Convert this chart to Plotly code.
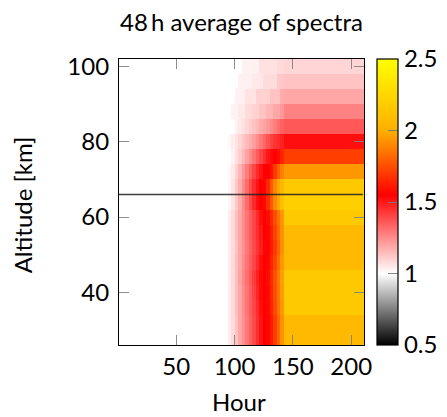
import plotly.graph_objects as go

# Hour bin edges: quiet period, 3-hour onset bins, then the settled period
hour_edges = [1, 94, 97, 100, 103, 106, 109, 112, 115, 118, 121, 124,
              127, 130, 133, 136, 139, 142, 211]

# Altitude bin edges in km (4 km layers centred on 28 ... 100 km)
altitude_edges = [26, 30, 34, 38, 42, 46, 50, 54, 58, 62, 66, 70, 74, 78,
                  82, 86, 90, 94, 98, 102]
altitudes = [28, 32, 36, 40, 44, 48, 52, 56, 60, 64, 68, 72, 76, 80, 84,
             88, 92, 96, 100]

# Ratio before the onset (all layers)
quiet_level = 1.0

# Ratio in each 3-hour bin from 94 h to 142 h, per altitude layer
onset = {
    28:  [1.04, 1.08, 1.13, 1.19, 1.24, 1.29, 1.34, 1.39, 1.45, 1.51, 1.55, 1.56, 1.62, 1.71, 1.81, 1.92],
    32:  [1.04, 1.08, 1.13, 1.19, 1.24, 1.29, 1.34, 1.39, 1.45, 1.51, 1.55, 1.56, 1.62, 1.71, 1.81, 1.92],
    36:  [1.04, 1.08, 1.14, 1.19, 1.25, 1.30, 1.35, 1.40, 1.46, 1.52, 1.55, 1.57, 1.64, 1.74, 1.84, 1.94],
    40:  [1.04, 1.08, 1.14, 1.19, 1.25, 1.30, 1.35, 1.41, 1.47, 1.53, 1.55, 1.57, 1.65, 1.75, 1.85, 1.95],
    44:  [1.04, 1.08, 1.14, 1.20, 1.26, 1.31, 1.36, 1.42, 1.48, 1.53, 1.55, 1.58, 1.66, 1.76, 1.86, 1.96],
    48:  [1.04, 1.08, 1.14, 1.19, 1.25, 1.30, 1.35, 1.40, 1.46, 1.52, 1.55, 1.57, 1.64, 1.73, 1.83, 1.94],
    52:  [1.04, 1.08, 1.13, 1.19, 1.24, 1.29, 1.34, 1.39, 1.44, 1.49, 1.54, 1.56, 1.62, 1.70, 1.80, 1.92],
    56:  [1.04, 1.08, 1.14, 1.19, 1.25, 1.30, 1.35, 1.40, 1.45, 1.50, 1.55, 1.56, 1.63, 1.72, 1.82, 1.92],
    60:  [1.04, 1.08, 1.14, 1.19, 1.25, 1.30, 1.35, 1.40, 1.46, 1.52, 1.55, 1.58, 1.66, 1.75, 1.84, 1.94],
    64:  [1.02, 1.06, 1.12, 1.18, 1.25, 1.32, 1.39, 1.46, 1.52, 1.55, 1.57, 1.66, 1.78, 1.90, 1.98, 2.10],
    68:  [1.02, 1.06, 1.12, 1.18, 1.25, 1.32, 1.39, 1.45, 1.51, 1.55, 1.56, 1.65, 1.78, 1.90, 1.98, 2.05],
    72:  [1.02, 1.05, 1.10, 1.16, 1.22, 1.28, 1.34, 1.40, 1.46, 1.51, 1.55, 1.55, 1.60, 1.70, 1.80, 1.88],
    76:  [1.00, 1.03, 1.07, 1.11, 1.15, 1.20, 1.25, 1.30, 1.35, 1.40, 1.45, 1.50, 1.53, 1.55, 1.58, 1.64],
    80:  [1.02, 1.04, 1.06, 1.09, 1.12, 1.15, 1.18, 1.21, 1.25, 1.29, 1.33, 1.37, 1.41, 1.44, 1.46, 1.48],
    84:  [1.00, 1.00, 1.03, 1.05, 1.07, 1.09, 1.11, 1.13, 1.15, 1.18, 1.20, 1.22, 1.25, 1.28, 1.31, 1.34],
    88:  [1.00, 1.03, 1.03, 1.05, 1.05, 1.08, 1.08, 1.10, 1.10, 1.13, 1.13, 1.16, 1.16, 1.19, 1.19, 1.22],
    92:  [1.00, 1.00, 1.03, 1.03, 1.03, 1.06, 1.06, 1.06, 1.10, 1.10, 1.10, 1.10, 1.13, 1.13, 1.13, 1.18],
    96:  [1.00, 1.00, 1.00, 1.03, 1.03, 1.03, 1.03, 1.05, 1.05, 1.05, 1.075, 1.075, 1.075, 1.075, 1.12, 1.12],
    100: [1.00, 1.00, 1.00, 1.00, 1.03, 1.03, 1.03, 1.03, 1.03, 1.065, 1.065, 1.065, 1.065, 1.065, 1.08, 1.08],
}

# Settled ratio after 142 h, per altitude layer
plateau = [2.06, 2.06, 2.16, 2.16, 2.16, 2.06, 2.06, 2.06, 2.16, 2.20,
           2.16, 1.94, 1.71, 1.52, 1.36, 1.27, 1.19, 1.13, 1.09]

# Reference altitude marked across the panel
marker_altitude = 66

z = [[quiet_level] + onset[a] + [p] for a, p in zip(altitudes, plateau)]

# black -> white -> red -> orange -> yellow over 0.5 ... 2.5
cmin, cmax = 0.5, 2.5
colorscale = [
    [0.0, "rgb(0,0,0)"],
    [0.25, "rgb(255,255,255)"],
    [0.525, "rgb(255,0,0)"],
    [0.75, "rgb(255,175,0)"],
    [1.0, "rgb(255,255,0)"],
]

FONT = "Lato"
FS = 24
W, H = 447, 417
L, R, T, B = 119, 83, 59, 72
plot_w = W - L - R
plot_h = H - T - B

fig = go.Figure()
fig.add_trace(go.Heatmap(
    x=hour_edges,
    y=altitude_edges,
    z=z,
    zmin=cmin,
    zmax=cmax,
    zsmooth=False,
    colorscale=colorscale,
    hoverinfo="skip",
    colorbar=dict(
        x=(377 - L) / plot_w,
        xanchor="left",
        xpad=0,
        y=0.5,
        yanchor="middle",
        len=1.0,
        lenmode="fraction",
        ypad=0,
        thickness=21,
        outlinecolor="black",
        outlinewidth=1.2,
        tickvals=[0.5, 1, 1.5, 2, 2.5],
        ticktext=["0.5", "1", "1.5", "2", "2.5"],
        ticks="inside",
        ticklen=10,
        tickcolor="rgba(120,120,120,0.9)",
        tickfont=dict(family=FONT, size=FS, color="black"),
    ),
))

fig.add_shape(
    type="line", xref="x", yref="y",
    x0=hour_edges[0], x1=hour_edges[-1] - 1,
    y0=marker_altitude, y1=marker_altitude,
    line=dict(color="rgba(30,30,30,0.85)", width=1.6),
)

axis_common = dict(
    showline=True,
    linecolor="black",
    linewidth=1.2,
    mirror="ticks",
    ticks="inside",
    ticklen=10,
    tickwidth=1.2,
    tickcolor="rgba(130,130,130,0.9)",
    showgrid=False,
    zeroline=False,
    tickfont=dict(family=FONT, size=FS, color="black"),
)

fig.update_xaxes(range=[hour_edges[0], hour_edges[-1]],
                 tickvals=[50, 100, 150, 200], **axis_common)
fig.update_yaxes(range=[altitude_edges[0], altitude_edges[-1]],
                 tickvals=[40, 60, 80, 100], ticklabelstandoff=4,
                 **axis_common)

fig.add_annotation(
    text="Altitude [km]", textangle=-90,
    xref="paper", yref="paper",
    x=(22.5 - L) / plot_w, y=0.49,
    xanchor="center", yanchor="middle", showarrow=False,
    font=dict(family=FONT, size=FS, color="black"),
)
fig.add_annotation(
    text="Hour",
    xref="paper", yref="paper",
    x=(239 - L) / plot_w, y=-(H - (H - B) + 1) / plot_h,
    xanchor="center", yanchor="bottom", showarrow=False,
    font=dict(family=FONT, size=FS, color="black"),
)

fig.update_layout(
    width=W,
    height=H,
    margin=dict(l=L, r=R, t=T, b=B, autoexpand=False),
    paper_bgcolor="white",
    plot_bgcolor="white",
    title=dict(
        text="48\u2009h average of spectra",
        x=0.5, xref="paper", xanchor="center",
        y=1 - 23 / H, yref="container", yanchor="middle",
        font=dict(family=FONT, size=FS, color="black"),
    ),
    showlegend=False,
)

fig.write_html("out.html")
